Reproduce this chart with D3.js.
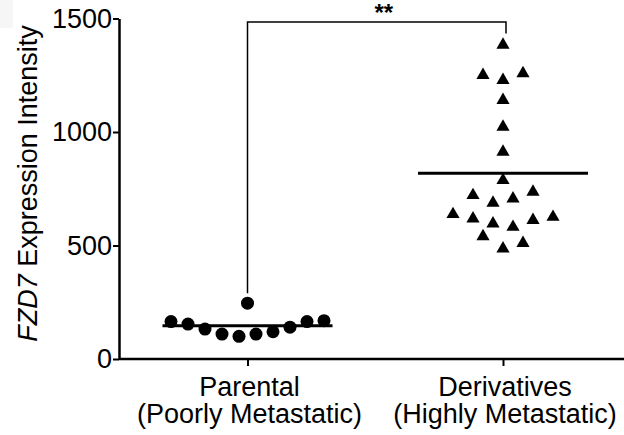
<!DOCTYPE html>
<html>
<head>
<meta charset="utf-8">
<script src="https://cdn.jsdelivr.net/npm/d3@7"></script>
<style>
  body { margin: 0; background: #fff; }
  svg { display: block; font-family: "Liberation Sans", Arial, Helvetica, sans-serif; }
</style>
</head>
<body>
<div id="chart"></div>
<script>
const width = 624;
const height = 435;

// groups on the x axis
const categories = ['Parental', 'Derivatives'];
const categoryLines = [
    ['Parental', '(Poorly Metastatic)'],
    ['Derivatives', '(Highly Metastatic)'],
];

// FZD7 expression per sample, in plotting order within each row
const parentalValues = [165, 154, 132, 110, 100, 110, 120, 140, 165, 169, 246];
const derivativeValues = [
    547, 493, 517,
    644, 625, 603, 588, 618, 632,
    728, 694, 713, 743,
    794, 919, 1029, 1147,
    1257, 1235, 1265,
    1390,
];

const yTicks = [0, 500, 1000, 1500];
const significance = '**';

const svg = d3.select('#chart')
    .append('svg')
    .attr('width', width)
    .attr('height', height);

// faint box in the top left corner of the original figure
svg.append('rect')
    .attr('x', 0).attr('y', 0)
    .attr('width', 13).attr('height', 28)
    .attr('fill', '#f6f6f6');

const x = d3.scalePoint()
    .domain(categories)
    .range([247.5, 503]);

const y = d3.scaleLinear()
    .domain([0, 1500])
    .range([359, 18.5]);

// Prism-style column scatter: points close in y share a row and spread sideways
function columnScatter(values, step, rowPx) {
    const order = d3.range(values.length).sort((a, b) => values[a] - values[b]);
    const rows = [];
    let current = null;
    order.forEach(i => {
        if (current && y(values[current[0]]) - y(values[i]) <= rowPx) {
            current.push(i);
        } else {
            current = [i];
            rows.push(current);
        }
    });
    const offsets = new Array(values.length);
    rows.forEach(row => {
        row.sort((a, b) => a - b);
        row.forEach((idx, k) => {
            offsets[idx] = (k - (row.length - 1) / 2) * step;
        });
    });
    return values.map((v, i) => ({ value: v, dx: offsets[i] }));
}

const parentalPoints = columnScatter(parentalValues, 17, 18);
const derivativePoints = columnScatter(derivativeValues, 20, 18);

// y axis
const yAxis = svg.append('g')
    .attr('transform', `translate(119,0)`)
    .call(d3.axisLeft(y).tickValues(yTicks).tickSize(6).tickSizeOuter(0).tickPadding(1).tickFormat(d3.format('d')));
yAxis.select('.domain').attr('stroke-width', 2.5);
yAxis.selectAll('.tick line').attr('stroke-width', 2);
yAxis.selectAll('.tick text')
    .attr('font-size', '27px')
    .attr('font-family', '"Liberation Sans", Arial, sans-serif')
    .attr('fill', '#000');

// x axis
const xAxis = svg.append('g')
    .attr('transform', `translate(0,359)`)
    .call(d3.axisBottom(x).tickSize(7).tickSizeOuter(0).tickFormat(''));
xAxis.select('.domain')
    .attr('d', 'M119,0H624')
    .attr('stroke-width', 2.5);
xAxis.selectAll('.tick line').attr('stroke-width', 2);

categories.forEach((c, i) => {
    const t = svg.append('text')
        .attr('text-anchor', 'middle')
        .attr('font-size', '27px')
        .attr('fill', '#000');
    categoryLines[i].forEach((line, k) => {
        t.append('tspan')
            .attr('x', x(c) + 2)
            .attr('y', 396 + k * 27)
            .text(line);
    });
});

// y axis title
const title = svg.append('text')
    .attr('transform', 'translate(37,183.5) rotate(-90)')
    .attr('text-anchor', 'middle')
    .attr('font-size', '27px')
    .attr('fill', '#000');
title.append('tspan').attr('font-style', 'italic').text('FZD7');
title.append('tspan').text(' Expression Intensity');

// points
svg.append('g')
    .selectAll('circle')
    .data(parentalPoints)
    .join('circle')
    .attr('cx', d => x('Parental') + d.dx)
    .attr('cy', d => y(d.value))
    .attr('r', 6.5)
    .attr('fill', '#000');

const triangle = d3.symbol().type(d3.symbolTriangle).size(75);
svg.append('g')
    .selectAll('path')
    .data(derivativePoints)
    .join('path')
    .attr('d', triangle)
    .attr('transform', d => `translate(${x('Derivatives') + d.dx},${y(d.value) + 1.5})`)
    .attr('fill', '#000');

// mean lines
const means = [d3.mean(parentalValues), d3.mean(derivativeValues)];
svg.append('g')
    .selectAll('line')
    .data(means)
    .join('line')
    .attr('x1', (d, i) => x(categories[i]) - 85)
    .attr('x2', (d, i) => x(categories[i]) + 85)
    .attr('y1', d => y(d))
    .attr('y2', d => y(d))
    .attr('stroke', '#000')
    .attr('stroke-width', 3);

// significance bracket
const topY = y(1485);
const leftBottom = y(d3.max(parentalValues)) - 10;
const rightBottom = y(d3.max(derivativeValues)) - 10;
svg.append('path')
    .attr('d', `M${x('Parental')},${leftBottom}V${topY}H${x('Derivatives') + 3}V${rightBottom}`)
    .attr('fill', 'none')
    .attr('stroke', '#000')
    .attr('stroke-width', 1.5);

svg.append('text')
    .attr('x', (x('Parental') + x('Derivatives') + 3) / 2 + 7)
    .attr('y', 21)
    .attr('text-anchor', 'middle')
    .attr('font-size', '24px')
    .attr('font-weight', 'bold')
    .attr('fill', '#000')
    .text(significance);
</script>
</body>
</html>
